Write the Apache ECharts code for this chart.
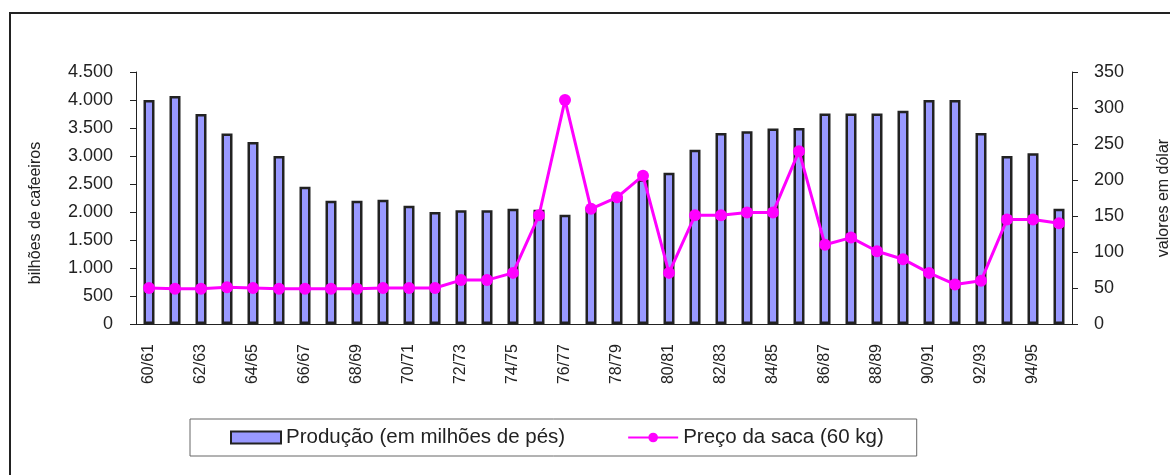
<!DOCTYPE html>
<html>
<head>
<meta charset="utf-8">
<title>Produção e preço do café</title>
<script src="https://cdn.jsdelivr.net/npm/echarts@6/dist/echarts.min.js"></script>
<style>
    html, body { margin: 0; padding: 0; background: #fff; }
    #chart { width: 1170px; height: 475px; }
</style>
</head>
<body>
<div id="chart"></div>
<script>
// safras 60/61 .. 95/96
var safras = [
    "60/61", "61/62", "62/63", "63/64", "64/65", "65/66", "66/67", "67/68", "68/69",
    "69/70", "70/71", "71/72", "72/73", "73/74", "74/75", "75/76", "76/77", "77/78",
    "78/79", "79/80", "80/81", "81/82", "82/83", "83/84", "84/85", "85/86", "86/87",
    "87/88", "88/89", "89/90", "90/91", "91/92", "92/93", "93/94", "94/95", "95/96"
];
// produção (em milhões de pés)
var producao = [
    4000, 4070, 3750, 3400, 3250, 3000, 2450, 2200, 2200,
    2220, 2110, 2000, 2030, 2030, 2060, 2040, 1950, 2080,
    2280, 2580, 2700, 3110, 3410, 3440, 3490, 3500, 3760,
    3760, 3760, 3810, 4000, 4000, 3410, 3000, 3050, 2060
];
// preço da saca de 60 kg (US$)
var preco = [
    50, 49, 49, 51, 50, 49, 49, 49, 49,
    50, 50, 50, 61, 61, 71, 151, 311, 160,
    176, 206, 71, 151, 151, 155, 155, 240, 110,
    120, 101, 90, 71, 55, 60, 145, 145, 140
];
var ticksEsq = [0, 4500, 500];
var ticksDir = [0, 350, 50];

var fonte = "'Liberation Sans', Arial, sans-serif";
var texto = "#222";

function milhar(v) {
    return String(v).replace(/\B(?=(\d{3})+(?!\d))/g, ".");
}

var chart = echarts.init(document.getElementById("chart"));

var option = {
    animation: false,
    textStyle: { fontFamily: fonte, color: texto },
    graphic: [{
        type: "rect",
        shape: { x: 10, y: 13, width: 1200, height: 500 },
        style: { fill: "none", stroke: "#222", lineWidth: 2 },
        silent: true
    }],
    grid: { left: 136, right: 98, top: 72, bottom: 151, outerBoundsMode: "none" },
    legend: {
        left: 190,
        top: 419,
        padding: [8, 33, 8, 40],
        itemGap: 62,
        itemWidth: 50,
        itemHeight: 12,
        borderColor: "#666",
        borderWidth: 1,
        textStyle: { fontFamily: fonte, fontSize: 20.5, color: texto },
        data: [
            { name: "Produção (em milhões de pés)", icon: "rect" },
            { name: "Preço da saca (60 kg)" }
        ]
    },
    xAxis: {
        type: "category",
        data: safras,
        axisLine: { lineStyle: { color: "#222", width: 1 } },
        axisTick: { interval: 0, length: 5, lineStyle: { color: "#222" } },
        axisLabel: {
            interval: 1,
            rotate: 90,
            margin: 20,
            fontSize: 16,
            fontFamily: fonte,
            color: texto
        }
    },
    yAxis: [
        {
            type: "value",
            min: ticksEsq[0],
            max: ticksEsq[1],
            interval: ticksEsq[2],
            name: "bilhões de cafeeiros",
            nameLocation: "middle",
            nameGap: 92,
            nameRotate: 90,
            nameTextStyle: { fontSize: 16, fontFamily: fonte, color: texto, padding: [0, 30, 0, 0] },
            splitLine: { show: false },
            axisLine: { show: true, lineStyle: { color: "#222", width: 1 } },
            axisTick: { show: true, length: 6, lineStyle: { color: "#222" } },
            axisLabel: {
                margin: 23,
                fontSize: 18,
                fontFamily: fonte,
                color: texto,
                formatter: milhar
            }
        },
        {
            type: "value",
            min: ticksDir[0],
            max: ticksDir[1],
            interval: ticksDir[2],
            position: "right",
            name: "valores em dólar",
            nameLocation: "middle",
            nameGap: 84,
            nameRotate: 90,
            nameTextStyle: { fontSize: 16, fontFamily: fonte, color: texto },
            splitLine: { show: false },
            axisLine: { show: true, lineStyle: { color: "#222", width: 1 } },
            axisTick: { show: true, length: 6, lineStyle: { color: "#222" } },
            axisLabel: {
                margin: 22,
                fontSize: 18,
                fontFamily: fonte,
                color: texto
            }
        }
    ],
    series: [
        {
            name: "Produção (em milhões de pés)",
            type: "bar",
            yAxisIndex: 0,
            barWidth: 11,
            data: producao,
            itemStyle: { color: "#9999FF", borderColor: "#222", borderWidth: 2.5 }
        },
        {
            name: "Preço da saca (60 kg)",
            type: "line",
            yAxisIndex: 1,
            data: preco,
            symbol: "circle",
            symbolSize: 12,
            lineStyle: { color: "#FF00FF", width: 3 },
            itemStyle: { color: "#FF00FF" }
        }
    ]
};

chart.setOption(option);
</script>
</body>
</html>
